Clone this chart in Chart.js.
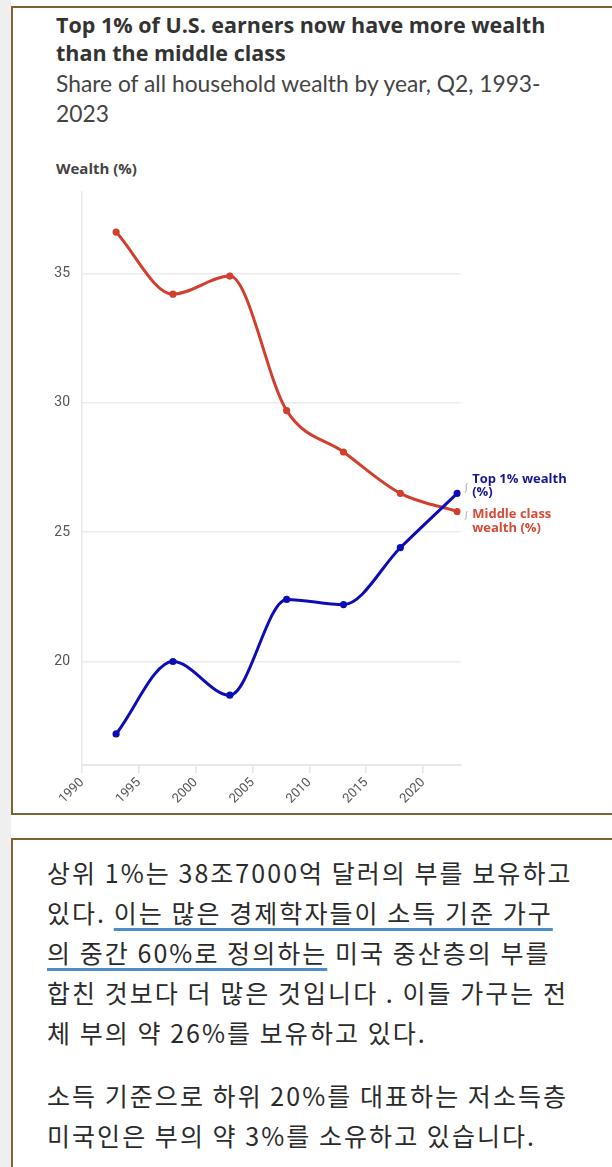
<!DOCTYPE html>
<html><head><meta charset="utf-8">
<script src="https://cdn.jsdelivr.net/npm/chart.js@4.4.1/dist/chart.umd.min.js"></script>
<style>
html,body{margin:0;padding:0;background:#fff;}
body{width:612px;height:1167px;position:relative;overflow:hidden;}
.strip{position:absolute;left:0;top:0;width:11px;height:1167px;background:#efefef;}
.frame1{position:absolute;left:11px;top:6px;width:640px;height:809px;box-sizing:border-box;border:2px solid #7e6332;border-right:none;}
.frame2{position:absolute;left:11px;top:838px;width:640px;height:400px;box-sizing:border-box;border:2px solid #7e6332;border-right:none;border-bottom:none;}
.title{position:absolute;left:56px;top:11px;font:700 21.5px/28px "Open Sans";color:#333;white-space:nowrap;}
.sub{position:absolute;left:56px;top:68px;font:400 22.8px/30px Lato;color:#444;white-space:nowrap;}
.ylab{position:absolute;left:56px;top:159px;font:700 15px/18px "Open Sans";color:#444;white-space:nowrap;}
#wrap{position:absolute;left:0;top:170px;width:612px;height:650px;}
.kr{position:absolute;left:47px;font:400 25px/40px "Noto Sans CJK KR";color:#2b2b2b;white-space:nowrap;letter-spacing:2.05px;}
.u{text-decoration:underline;text-decoration-color:#4b8fc6;text-decoration-thickness:3px;text-underline-offset:5px;}
</style>
</head>
<body>
<div class="strip"></div>
<div class="frame1"></div>
<div class="frame2"></div>
<div class="title">Top 1% of U.S. earners now have more wealth<br>than the middle class</div>
<div class="sub">Share of all household wealth by year, Q2, 1993-<br>2023</div>
<div class="ylab">Wealth (%)</div>
<div id="wrap"><canvas id="c" width="612" height="650"></canvas></div>
<div class="kr" style="top:852px">상위 1%는 38조7000억 달러의 부를 보유하고<br>있다. <span class="u">이는 많은 경제학자들이 소득 기준 가구</span><br><span class="u">의 중간 60%로 정의하는</span> 미국 중산층의 부를<br>합친 것보다 더 많은 것입니다 . 이들 가구는 전<br>체 부의 약 26%를 보유하고 있다.</div>
<div class="kr" style="top:1075px">소득 기준으로 하위 20%를 대표하는 저소득층<br>미국인은 부의 약 3%를 소유하고 있습니다.</div>
<script>
const years = [1993, 1998, 2003, 2008, 2013, 2018, 2023];
const top1Wealth = [17.2, 20.0, 18.7, 22.4, 22.2, 24.4, 26.5];
const middleWealth = [36.6, 34.2, 34.9, 29.7, 28.1, 26.5, 25.8];
const xTickValues = [1990, 1995, 2000, 2005, 2010, 2015, 2020];
const yTickValues = [20, 25, 30, 35];
const top1Label = ['Top 1% wealth', '(%)'];
const middleLabel = ['Middle class', 'wealth (%)'];

const BLUE = '#0d0db8', RED = '#d33f2e';

const endLabels = {
  id: 'endLabels',
  afterDatasetsDraw(chart) {
    const ctx = chart.ctx;
    ctx.save();
    ctx.font = '700 13px "Open Sans"';
    ctx.textBaseline = 'middle';
    ctx.textAlign = 'left';
    const spec = [
      {ds: 0, color: '#17178f', lines: top1Label, dy: [-14, -1], br: [-10, -1]},
      {ds: 1, color: '#d54b36', lines: middleLabel, dy: [2.5, 16.5], br: [0, 8]}
    ];
    spec.forEach(s => {
      const m = chart.getDatasetMeta(s.ds);
      const p = m.data[m.data.length - 1];
      ctx.fillStyle = s.color;
      s.lines.forEach((t, i) => ctx.fillText(t, p.x + 15, p.y + s.dy[i]));
      ctx.strokeStyle = '#aaaaaa';
      ctx.lineWidth = 1;
      ctx.beginPath();
      const bx = p.x + 9;
      ctx.moveTo(bx + 1.5, p.y + s.br[0]);
      ctx.quadraticCurveTo(bx, p.y + s.br[0], bx, p.y + s.br[0] + 2);
      ctx.lineTo(bx, p.y + s.br[1] - 2);
      ctx.quadraticCurveTo(bx, p.y + s.br[1], bx - 1.5, p.y + s.br[1]);
      ctx.stroke();
    });
    ctx.restore();
  }
};

new Chart(document.getElementById('c'), {
  type: 'line',
  data: {
    datasets: [
      {
        label: 'Top 1% wealth (%)',
        data: years.map((y, i) => ({x: y, y: top1Wealth[i]})),
        borderColor: BLUE, backgroundColor: BLUE,
        borderWidth: 3, cubicInterpolationMode: 'monotone',
        pointRadius: 3.6, pointBorderWidth: 0, pointBackgroundColor: BLUE
      },
      {
        label: 'Middle class wealth (%)',
        data: years.map((y, i) => ({x: y, y: middleWealth[i]})),
        borderColor: RED, backgroundColor: RED,
        borderWidth: 3, cubicInterpolationMode: 'monotone',
        pointRadius: 3.6, pointBorderWidth: 0, pointBackgroundColor: RED
      }
    ]
  },
  options: {
    responsive: false,
    animation: false,
    devicePixelRatio: 1,
    layout: {padding: {left: 0, right: 151.4, top: 22, bottom: 0}},
    plugins: {legend: {display: false}, tooltip: {enabled: false}},
    scales: {
      x: {
        type: 'linear', min: 1990, max: 2023.3,
        afterBuildTicks: s => { s.ticks = xTickValues.map(v => ({value: v})); },
        afterFit: s => { s.height = 55; },
        grid: {display: true, drawOnChartArea: false, drawTicks: true, tickLength: 8, color: '#e4e4e4', lineWidth: 1.5},
        border: {display: true, color: '#e8e8e8', width: 2},
        ticks: {minRotation: 45, maxRotation: 45, color: '#555', font: {family: 'Roboto', size: 13}, padding: 2, callback: v => String(v)}
      },
      y: {
        type: 'linear', min: 16, max: 38.15,
        afterBuildTicks: s => { s.ticks = yTickValues.map(v => ({value: v})); },
        afterFit: s => { s.width = 82; },
        grid: {color: '#ececec', lineWidth: 1.5, drawTicks: false},
        border: {display: true, color: '#e8e8e8', width: 1.5},
        ticks: {color: '#555', font: {family: 'Roboto', size: 14}, padding: 12, callback: v => String(v)}
      }
    }
  },
  plugins: [endLabels]
});
</script>
</body></html>
